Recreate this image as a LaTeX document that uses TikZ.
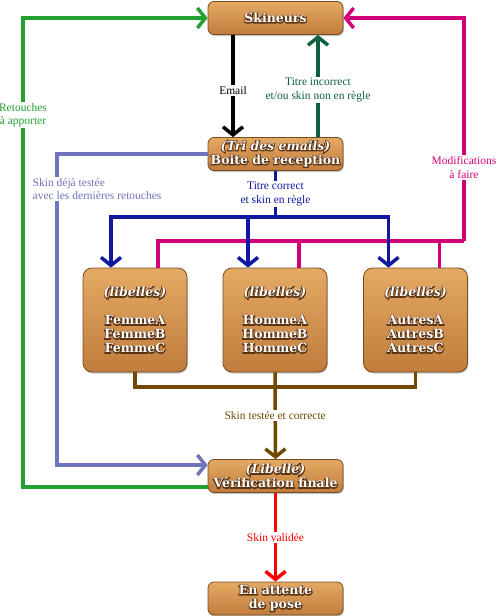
\documentclass[tikz,border=0pt]{standalone}
\usepackage{fontspec}
\setmainfont{Liberation Serif}
\newfontfamily\boxfont{DejaVu Serif}
\usetikzlibrary{arrows.meta,positioning,calc,shadows}

\definecolor{woodlight}{RGB}{228,170,100}
\definecolor{wooddark}{RGB}{192,124,60}
\definecolor{woodedge}{RGB}{118,76,34}
\definecolor{vert}{RGB}{34,160,48}
\definecolor{vfonce}{RGB}{16,96,64}
\definecolor{bleu}{RGB}{16,24,160}
\definecolor{mag}{RGB}{210,0,120}
\definecolor{peri}{RGB}{112,116,188}
\definecolor{brun}{RGB}{112,72,0}
\definecolor{rouge}{RGB}{255,0,0}

% white letters with a dark brown outline (stroke under fill)
\newcommand{\woodtext}[1]{\rlap{\special{pdf:code 1 Tr 1.8 w 0.36 0.2 0.07 RG}#1\special{pdf:code 0 Tr}}#1}

\tikzset{
  wood/.style={rounded corners=6pt, top color=woodlight, bottom color=wooddark,
    draw=woodedge, line width=0.8pt, text=white, align=center, inner sep=1pt,
    font=\boxfont\bfseries\fontsize{12.5}{14}\selectfont,
    drop shadow={shadow xshift=0.8pt, shadow yshift=-1.5pt, opacity=0.45},
    minimum width=135pt, minimum height=33pt},
  catbox/.style={wood, minimum width=104pt, minimum height=104pt, rounded corners=9pt},
  line/.style={line width=3.5pt},
  arr/.style={line, -{Straight Barb[length=8pt, width=20pt]}},
  lbl/.style={fill=white, inner sep=1.5pt, align=center,
    font=\fontsize{11.5}{13.5}\selectfont}
}

\begin{document}
\begin{tikzpicture}[x=1pt, y=-1pt]
  \useasboundingbox (0,0) rectangle (500,616);

  % Boxes
  \node[wood] (skin) at (275.5,18) {\woodtext{Skineurs}};
  \node[wood] (boite) at (275.5,154)
    {\woodtext{\itshape(Tri des emails)}\\\woodtext{Boite de reception}};
  \node[catbox] (femme) at (135,320)
    {\woodtext{\itshape(libellés)}\\[14pt]\woodtext{FemmeA}\\\woodtext{FemmeB}\\\woodtext{FemmeC}};
  \node[catbox] (homme) at (275,320)
    {\woodtext{\itshape(libellés)}\\[14pt]\woodtext{HommeA}\\\woodtext{HommeB}\\\woodtext{HommeC}};
  \node[catbox] (autres) at (415.5,320)
    {\woodtext{\itshape(libellés)}\\[14pt]\woodtext{AutresA}\\\woodtext{AutresB}\\\woodtext{AutresC}};
  \node[wood] (verif) at (275.5,476)
    {\woodtext{\itshape(Libellé)}\\\woodtext{Vérification finale}};
  \node[wood] (pose) at (275.5,598.5)
    {\woodtext{En attente}\\\woodtext{de pose}};

  % Helper coordinates
  \coordinate (em) at (233,0);
  \coordinate (ti) at (318,0);
  \coordinate (bj) at (275.5,217);
  \coordinate (mr) at (464,241);
  \coordinate (bb) at (0,387);
  \coordinate (pl) at (57,0);
  \coordinate (fb) at ($(femme.north)+(-24,0)$);
  \coordinate (hb) at ($(homme.north)+(-27,0)$);
  \coordinate (ab) at ($(autres.north)+(-27,0)$);
  \coordinate (pv) at ($(verif.west)+(0,-11)$);
  \coordinate (gv) at ($(verif.west)+(0,11)$);

  % Email / titre incorrect
  \draw[arr, black] (skin.south -| em) -- node[lbl, pos=0.54] {Email} (boite.north -| em);
  \draw[arr, vfonce] (boite.north -| ti) -- node[lbl, pos=0.46]
    {Titre incorrect\\et/ou skin non en règle} (skin.south -| ti);

  % Modifications a faire
  \draw[line, mag] ($(femme.north)+(23,0)$) |- (mr);
  \draw[line, mag] ($(homme.north)+(24,0)$) -- ++(0,-27);
  \draw[line, mag] ($(autres.north)+(24,0)$) -- ++(0,-27);
  \draw[arr, mag] (mr) -- node[lbl, pos=0.33] {Modifications\\à faire}
    (mr |- skin.east) -- (skin.east);

  % Titre correct
  \draw[line, bleu] (boite.south) -- node[lbl] {Titre correct\\et skin en règle} (bj);
  \draw[arr, bleu] (bj) -| (fb);
  \draw[arr, bleu] (bj) -| (ab);
  \draw[arr, bleu] (hb |- bj) -- (hb);

  % Skin testee
  \draw[line, brun] (femme.south) |- (autres.south |- bb) -- (autres.south);
  \draw[arr, brun] (homme.south) -- (homme.south |- bb) -- node[lbl, pos=0.39]
    {Skin testée et correcte} (verif.north);

  % Retouches
  \draw[arr, vert] (gv) -| (23,115) node[lbl] {Retouches\\à apporter} |- (skin.west);
  \draw[arr, peri] (boite.west) -| (pl |- pv) -- (pv);
  \node[lbl, text=peri, align=left, anchor=west] (deja) at (31,189)
    {Skin déjà testée\\avec les dernières retouches};

  % Validation
  \draw[arr, rouge] (verif.south) -- node[lbl] {Skin validée} (pose.north);
\end{tikzpicture}
\end{document}
